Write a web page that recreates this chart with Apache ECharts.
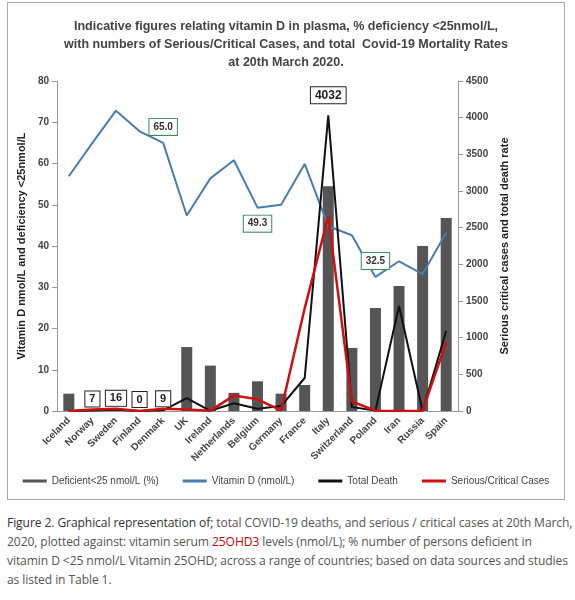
<!DOCTYPE html>
<html><head><meta charset="utf-8">
<script src="https://cdn.jsdelivr.net/npm/echarts@6/dist/echarts.min.js"></script>
<style>
body{margin:0;background:#fff;font-family:"Open Sans",sans-serif;}
#c{position:absolute;left:7px;top:2px;width:556px;height:496px;border:1px solid #aaa;}
#cap{position:absolute;left:7px;top:513px;width:568px;font-size:12.1px;line-height:19px;color:#555;letter-spacing:-0.1px;}
#cap b{color:#333;font-weight:500}
#cap span{color:#c00}
</style></head><body>
<div id="c"></div>
<div id="cap"><b>Figure 2. Graphical representation of;</b> total COVID-19 deaths, and serious / critical cases at 20th March, 2020, plotted against: vitamin serum <span>25OHD3</span> levels (nmol/L); % number of persons deficient in vitamin D &lt;25 nmol/L Vitamin 25OHD; across a range of countries; based on data sources and studies as listed in Table 1.</div>
<script>
const categories=["Iceland","Norway","Sweden","Finland","Denmark","UK","Ireland","Netherlands","Belgium","Germany","France","Italy","Switzerland","Poland","Iran","Russia","Spain"];
const deficient=[4.2,0,0,0,0,15.5,11,4.4,7.2,4.2,6.3,54.5,15.3,25,30.3,40,46.8];
const vitaminD=[56.9,65,72.8,67.8,65.0,47.4,56.4,60.8,49.3,50.0,59.9,44.8,42.6,32.5,36.3,33.2,43.2];
const totalDeath=[0,7,16,0,9,177,3,106,30,67,450,4032,56,5,1433,1,1093];
const serious=[0,20,30,0,30,20,5,210,160,10,1400,2655,130,5,0,5,940];
const vdLabels={4:'top',8:'bottom',13:'top'};
const deathLabels=[1,2,3,4,11];
const chart=echarts.init(document.getElementById('c'));
const boxG={show:true,formatter:p=>p.value.toFixed(1),borderColor:'#3a8a5a',borderWidth:1,padding:[3,4],color:'#333',fontWeight:'bold',fontSize:10,backgroundColor:'#fff'};
chart.setOption({
 animation:false,
 title:{text:'Indicative figures relating vitamin D in plasma, % deficiency <25nmol/L,\nwith numbers of Serious/Critical Cases, and total  Covid-19 Mortality Rates\nat 20th March 2020.',left:'center',top:10,textStyle:{fontSize:12.5,fontWeight:'bold',color:'#444',lineHeight:18}},
 grid:{left:47,right:106,top:78,bottom:88},
 legend:{bottom:8,itemWidth:24,itemHeight:3,itemGap:24,textStyle:{fontSize:10,color:'#444'},
   data:[{name:'Deficient<25 nmol/L (%)',icon:'rect',itemStyle:{}},{name:'Vitamin D (nmol/L)',icon:'rect'},{name:'Total Death',icon:'rect'},{name:'Serious/Critical Cases',icon:'rect'}]},
 xAxis:{type:'category',data:categories,axisLine:{lineStyle:{color:'#999'}},axisTick:{lineStyle:{color:'#999'}},
   axisLabel:{rotate:45,interval:0,fontWeight:'bold',color:'#444',fontSize:10}},
 yAxis:[{type:'value',min:0,max:80,interval:10,name:'Vitamin D nmol/L and deficiency <25nmol/L',nameLocation:'middle',nameGap:30,
   nameTextStyle:{fontWeight:'bold',color:'#222',fontSize:11},splitLine:{show:false},axisLine:{show:true,lineStyle:{color:'#999'}},axisTick:{show:true},axisLabel:{fontWeight:'bold',color:'#444',fontSize:10}},
  {type:'value',min:0,max:4500,interval:500,name:'Serious critical cases and total death rate',nameLocation:'middle',nameGap:40,
   nameTextStyle:{fontWeight:'bold',color:'#222',fontSize:11},splitLine:{show:false},axisLine:{show:true,lineStyle:{color:'#999'}},axisTick:{show:true},axisLabel:{fontWeight:'bold',color:'#444',fontSize:10,formatter:v=>String(v)}}],
 series:[
  {name:'Deficient<25 nmol/L (%)',type:'bar',data:deficient,barWidth:11,itemStyle:{color:'#555'}},
  {name:'Vitamin D (nmol/L)',type:'line',data:vitaminD.map((v,i)=>vdLabels[i]?{value:v,label:Object.assign({},boxG,{position:vdLabels[i],distance:8})}:v),
   symbol:'circle',symbolSize:0,showSymbol:true,lineStyle:{color:'#4a7cb0',width:2},itemStyle:{color:'#4a7cb0'}},
  {name:'Total Death',type:'line',yAxisIndex:1,data:totalDeath.map((v,i)=>deathLabels.includes(i)?{value:v,label:{show:true,position:'top',distance:i==11?12:4,borderColor:'#222',borderWidth:1,padding:[2,4],color:'#222',fontWeight:'bold',fontSize:i==11?12:11,backgroundColor:'#fff'}}:v),
   symbol:'circle',symbolSize:0,showSymbol:true,lineStyle:{color:'#111',width:2},itemStyle:{color:'#111'},z:3},
  {name:'Serious/Critical Cases',type:'line',yAxisIndex:1,data:serious,symbol:'none',lineStyle:{color:'#d01010',width:2.5},itemStyle:{color:'#d01010'},z:4}
 ]
});
</script></body></html>
